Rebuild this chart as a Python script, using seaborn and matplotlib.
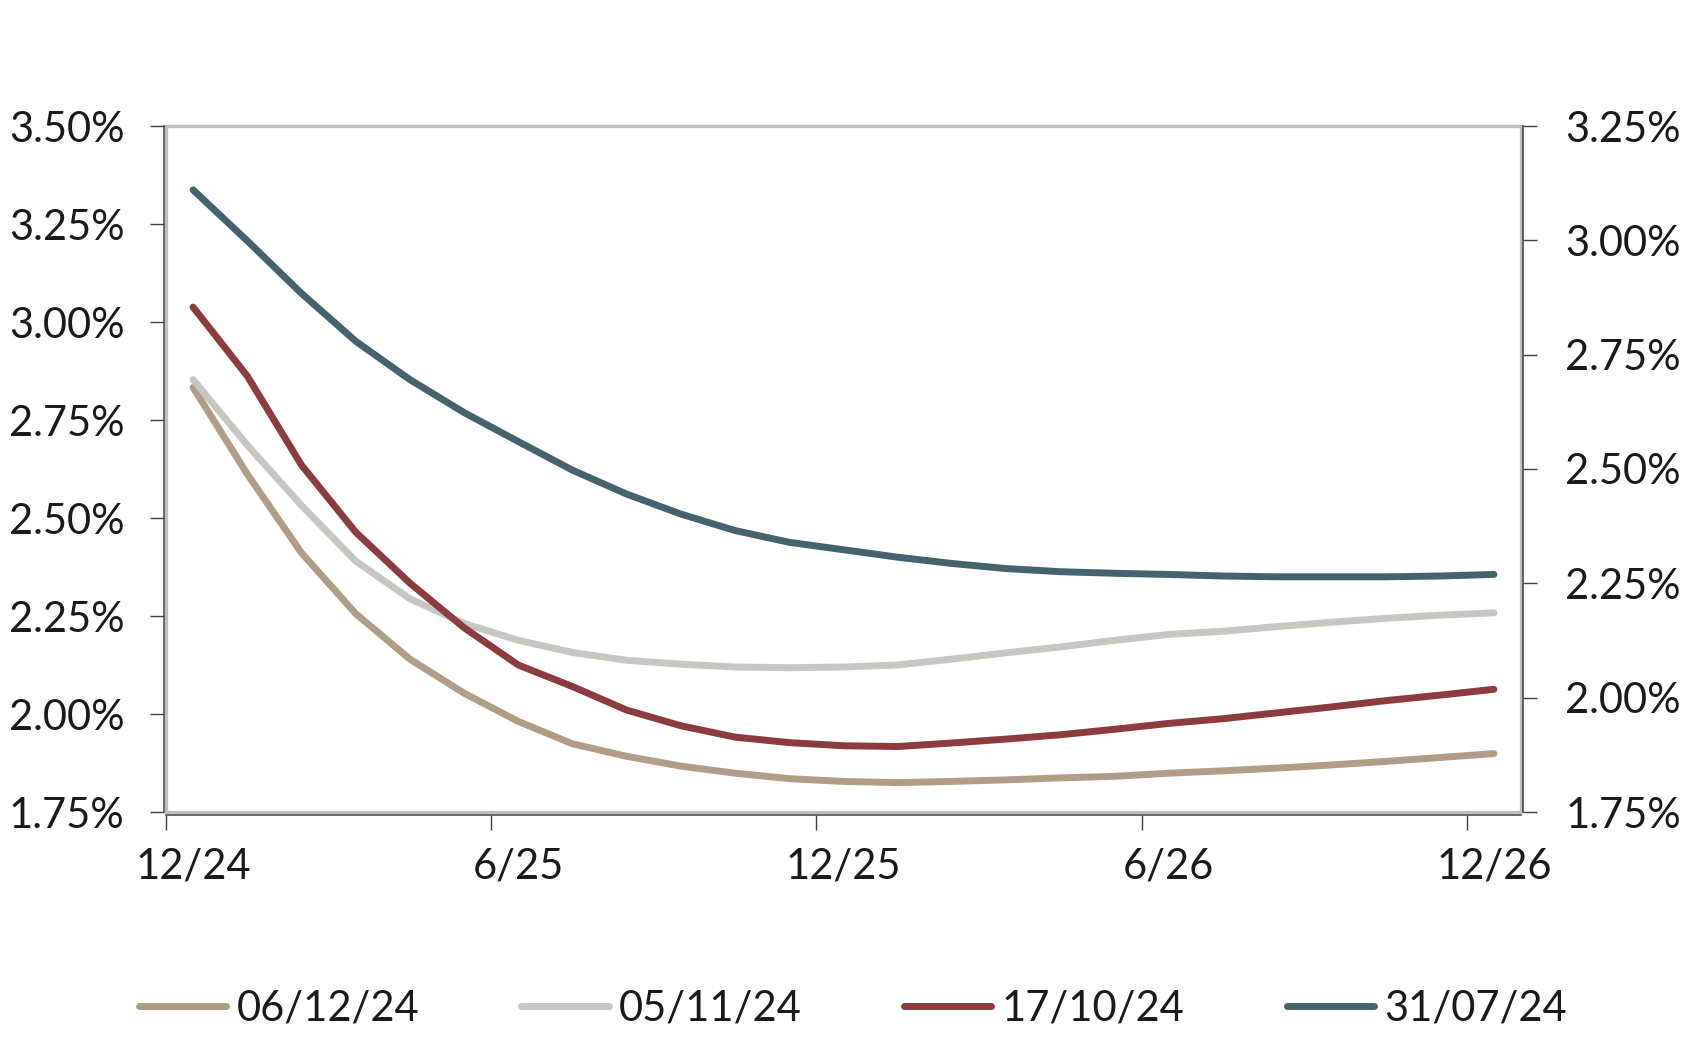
import numpy as np
import pandas as pd
import matplotlib
matplotlib.use("Agg")
import matplotlib.pyplot as plt
import matplotlib.ticker as mticker
from matplotlib.patches import Rectangle
import seaborn as sns

# ---- data (monthly, Dec-24 .. Dec-26) ----
months = list(range(25))
tick_labels = ["12/24", "6/25", "12/25", "6/26", "12/26"]
label_pos = [0, 6, 12, 18, 24]
series_names = ["06/12/24", "05/11/24", "17/10/24", "31/07/24"]

s_061224 = [2.833, 2.612, 2.411, 2.256, 2.140, 2.053, 1.981, 1.924, 1.892, 1.867,
            1.849, 1.835, 1.828, 1.825, 1.828, 1.832, 1.837, 1.841, 1.849, 1.855,
            1.862, 1.870, 1.879, 1.889, 1.899]
s_051124 = [2.853, 2.686, 2.532, 2.390, 2.294, 2.231, 2.188, 2.157, 2.137, 2.127,
            2.120, 2.118, 2.120, 2.125, 2.140, 2.156, 2.171, 2.188, 2.203, 2.211,
            2.223, 2.234, 2.244, 2.252, 2.258]
s_171024 = [3.038, 2.862, 2.635, 2.464, 2.334, 2.220, 2.125, 2.070, 2.010, 1.970,
            1.941, 1.927, 1.919, 1.917, 1.926, 1.936, 1.947, 1.961, 1.976, 1.988,
            2.003, 2.018, 2.034, 2.048, 2.063]
s_310724 = [3.337, 3.207, 3.073, 2.951, 2.853, 2.769, 2.695, 2.622, 2.561, 2.510,
            2.468, 2.438, 2.419, 2.400, 2.384, 2.371, 2.363, 2.359, 2.356, 2.352,
            2.350, 2.350, 2.350, 2.352, 2.356]

left_ticks = [1.75, 2.00, 2.25, 2.50, 2.75, 3.00, 3.25, 3.50]
right_ticks = [1.75, 2.00, 2.25, 2.50, 2.75, 3.00, 3.25]

colors = ["#b09d87", "#c6c7c0", "#8c3b3f", "#46626c"]

df = pd.concat([
    pd.DataFrame({"month": months, "rate": vals, "series": name})
    for name, vals in zip(series_names, [s_061224, s_051124, s_171024, s_310724])
])

sns.set_theme(style="white")
plt.rcParams["font.family"] = ["Lato", "DejaVu Sans"]
plt.rcParams["font.weight"] = "normal"
txt = "#1a1a1a"
axis_col = "#404040"
frame_col = "#bfbfbf"

fig = plt.figure(figsize=(16.89, 10.40), dpi=100)
ax = fig.add_axes([166/1689, 1-812/1040, (1521-166)/1689, (812-126)/1040])

sns.lineplot(data=df, x="month", y="rate", hue="series", hue_order=series_names,
             palette=colors, linewidth=5.0, ax=ax, legend=False)
for ln in ax.get_lines():
    ln.set_solid_capstyle("round")
    ln.set_solid_joinstyle("round")

ax.set_xlim(-0.5, 24.5)
ax.set_ylim(1.75, 3.50)
ax.set_xlabel("")
ax.set_ylabel("")

# x: ticks at boundaries, labels at centres
ax.set_xticks([-0.5, 5.5, 11.5, 17.5, 23.5])
ax.set_xticklabels([])
ax.set_xticks(label_pos, minor=True)
ax.set_xticklabels(tick_labels, minor=True)
ax.tick_params(axis="x", which="major", direction="out", length=11, width=1,
               color=axis_col, bottom=True)
ax.tick_params(axis="x", which="minor", length=0, pad=24, labelsize=30,
               labelcolor=txt)

ax.set_yticks(left_ticks)
ax.yaxis.set_major_formatter(mticker.FuncFormatter(lambda v, p: f"{v:.2f}%"))
ax.tick_params(axis="y", direction="out", length=10, width=1, color=axis_col,
               left=True, labelsize=30, labelcolor=txt, pad=18)

ax2 = ax.twinx()
ax2.set_ylim(1.75, 3.25)
ax2.set_yticks(right_ticks)
ax2.yaxis.set_major_formatter(mticker.FuncFormatter(lambda v, p: f"{v:.2f}%"))
ax2.tick_params(axis="y", direction="out", length=10, width=1, color=axis_col,
                right=True, labelsize=30, labelcolor=txt, pad=20)
ax2.grid(False)
ax.grid(False)

for a in (ax, ax2):
    for s in a.spines.values():
        s.set_visible(False)
ax.spines["left"].set_visible(True)
ax.spines["bottom"].set_visible(True)
ax2.spines["right"].set_visible(True)
for a, k in ((ax, "left"), (ax, "bottom"), (ax2, "right")):
    a.spines[k].set_color(axis_col)
    a.spines[k].set_linewidth(1.1)
    a.spines[k].set_position(("outward", 1.8))

ax.add_patch(Rectangle((0, 0), 1, 1, transform=ax.transAxes, fill=False,
                       edgecolor=frame_col, linewidth=2.4, clip_on=False, zorder=0.5))

handles = [plt.Line2D([0], [0], color=c, linewidth=5.0, solid_capstyle="round")
           for c in colors]
fig.legend(handles, series_names, loc="center", bbox_to_anchor=(0.505, 0.03),
           ncol=4, frameon=False, fontsize=30, handlelength=2.1,
           handletextpad=0.25, columnspacing=2.45, labelcolor=txt)

fig.savefig("out.png", dpi=100, facecolor="white")
